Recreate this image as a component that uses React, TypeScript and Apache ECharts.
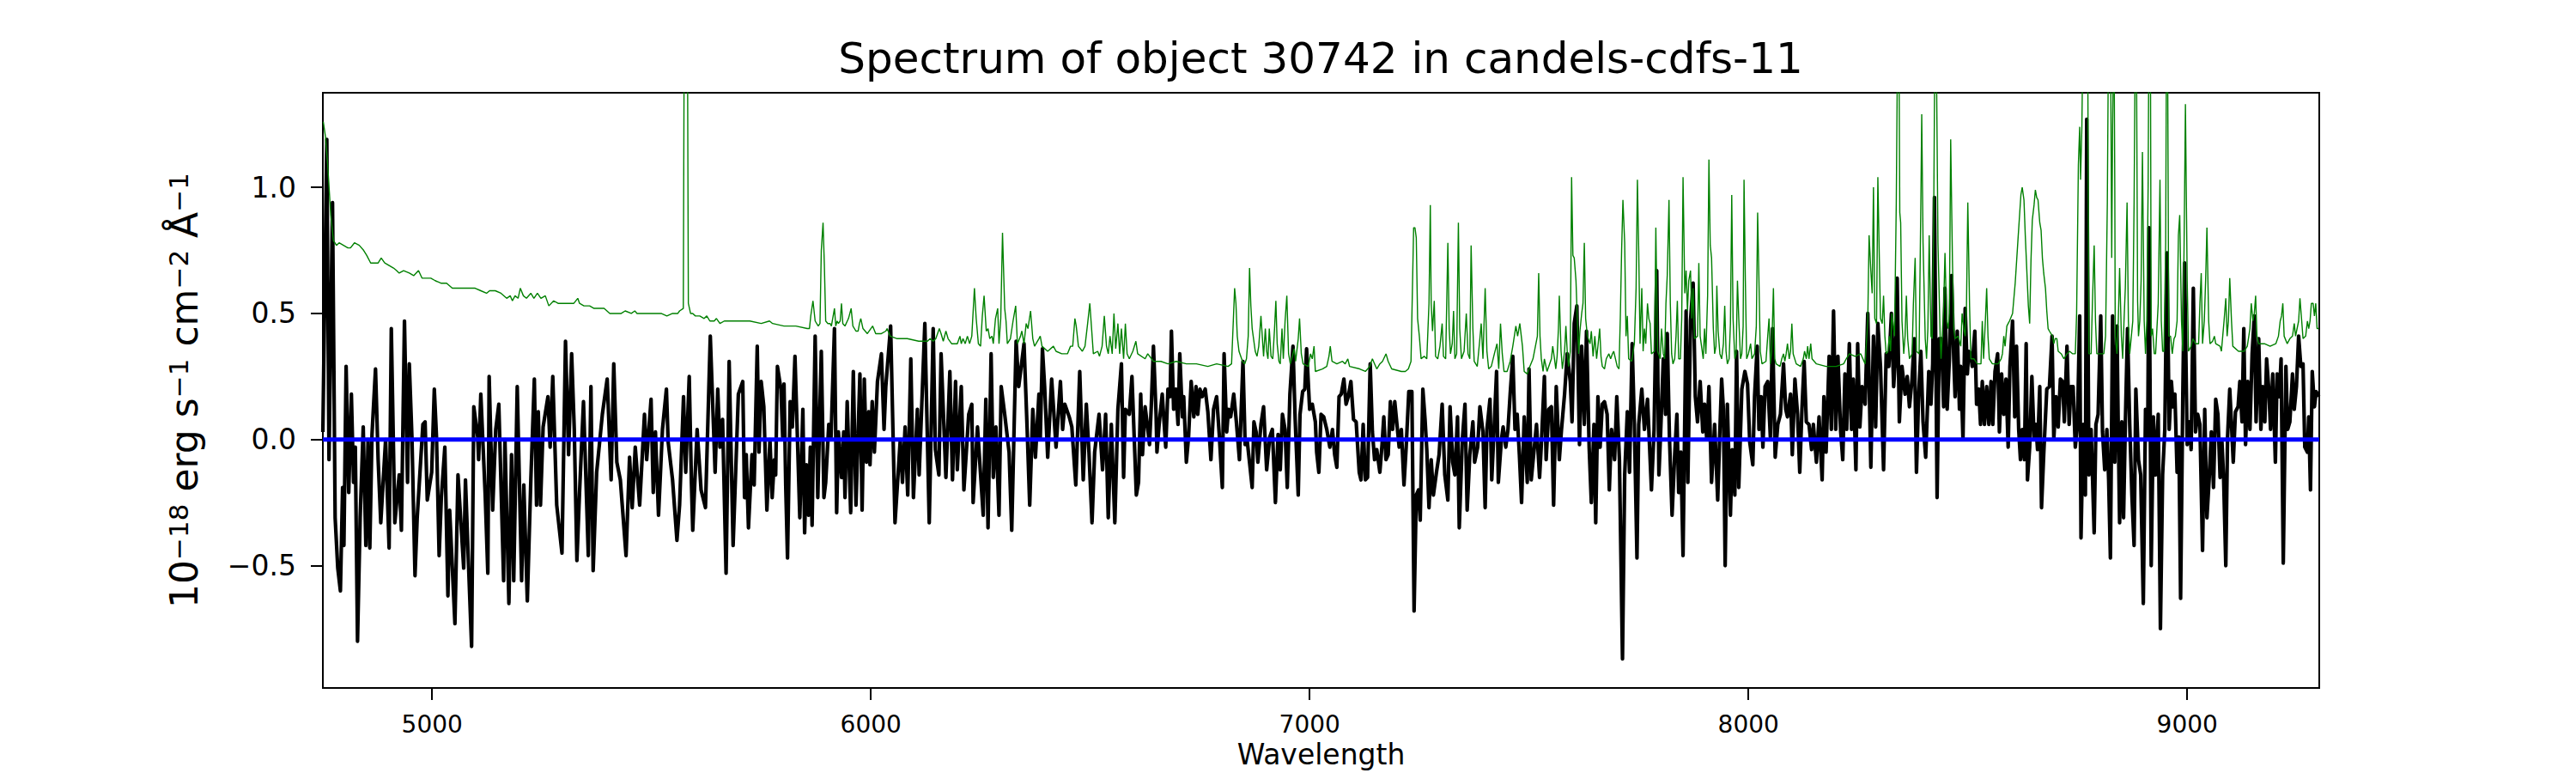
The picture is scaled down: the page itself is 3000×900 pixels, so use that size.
import React, { useEffect, useRef } from "react";
import * as echarts from "echarts";

// ---------- text ----------
const TITLE = "Spectrum of object 30742 in candels-cdfs-11";
const X_NAME = "Wavelength";
const Y_NAME_PARTS: [string, string][] = [
  ["n", "10"], ["s", "\u221218"], ["n", " erg s"], ["s", "\u22121"],
  ["n", " cm"], ["s", "\u22122"], ["n", " \u00c5"], ["s", "\u22121"],
];

// ---------- axes ----------
const X_MIN = 4751;
const X_MAX = 9301;
const Y_MIN = -0.985;
const Y_MAX = 1.375;
const X_TICKS = [5000, 6000, 7000, 8000, 9000];
const Y_TICKS = [-0.5, 0, 0.5, 1.0];
const ZERO_LEVEL = 0;

// ---------- flux (black), [wavelength, flux] ----------
const FLUX_A: [number, number][] = [
  [4751,0.03],[4760,1.19],[4765,-0.08],[4773,0.94],[4779,-0.31],[4785,-0.51],[4791,-0.60],[4796,-0.19],[4799,-0.42],[4804,0.29],[4810,-0.21],[4816,0.18],[4821,-0.17],[4825,-0.03],[4830,-0.80],[4836,-0.31],[4843,0.05],[4849,-0.42],[4854,0.00],[4858,-0.43],[4863,0.02],[4871,0.28],[4877,-0.08],[4883,-0.33],[4894,0.00],[4902,-0.43],[4907,0.44],[4915,-0.33],[4925,-0.14],[4930,-0.36],[4937,0.47],[4944,-0.17],[4948,0.30],[4954,0.01],[4961,-0.54],[4966,-0.31],[4979,0.06],[4984,0.07],[4989,-0.24],[4999,-0.13],[5005,0.20],[5010,0.01],[5016,-0.46],[5021,-0.23],[5029,-0.03],[5036,-0.62],[5040,-0.28],[5052,-0.73],[5059,-0.14],[5072,-0.51],[5076,-0.16],[5082,-0.45],[5090,-0.82],[5095,0.13],[5104,0.01],[5106,-0.08],[5111,0.18],[5121,-0.22],[5127,-0.53],[5130,0.25],[5138,-0.28],[5145,0.04],[5152,0.14],[5163,-0.56],[5166,0.00],[5175,-0.65],[5181,-0.06],[5186,-0.56],[5194,0.21],[5204,-0.56],[5209,-0.18],[5217,-0.64],[5225,-0.16],[5233,0.24],[5238,-0.26],[5242,0.11],[5247,-0.26],[5253,0.05],[5264,0.17],[5269,-0.03],[5275,0.25],[5284,-0.26],[5296,-0.45],[5304,0.39],[5311,-0.06],[5318,0.34],[5324,0.04],[5330,-0.48],[5336,-0.21],[5345,0.15],[5356,-0.46],[5362,0.21],[5367,-0.52],[5375,-0.13],[5388,0.10],[5399,0.24],[5408,-0.16],[5414,0.30],[5421,-0.09],[5429,-0.16],[5442,-0.46],[5450,-0.07],[5456,-0.27],[5463,-0.03],[5473,-0.26],[5484,0.10],[5489,-0.08],[5499,0.16],[5504,-0.21],[5509,0.03],[5516,-0.30],[5525,0.04],[5534,0.20],[5538,-0.01],[5548,-0.16],[5558,-0.40],[5564,-0.26],[5573,0.17],[5578,-0.13],[5586,0.25],[5591,-0.17],[5594,-0.36],[5604,0.04],[5613,-0.20],[5623,-0.27],[5634,0.41],[5645,-0.13],[5651,0.20],[5656,-0.03],[5662,0.08],[5670,-0.53],[5677,0.31],
];
const FLUX_B: [number, number][] = [
  [5686,-0.42],[5698,0.18],[5708,0.23],[5712,-0.23],[5716,-0.06],[5721,-0.35],[5729,-0.06],[5734,-0.18],[5741,0.37],[5745,-0.05],[5750,0.23],[5756,0.13],[5763,-0.28],[5770,0.00],[5775,-0.23],[5780,-0.08],[5783,-0.14],[5787,0.29],[5795,0.20],[5799,0.01],[5802,0.22],[5806,-0.19],[5810,-0.47],[5816,0.15],[5821,0.05],[5827,0.33],[5832,0.04],[5838,-0.31],[5845,0.12],[5849,-0.37],[5853,-0.10],[5858,-0.30],[5862,-0.03],[5866,-0.34],[5873,0.41],[5879,-0.23],[5887,0.35],[5893,-0.23],[5897,-0.17],[5904,0.06],[5909,0.00],[5917,0.44],[5922,-0.29],[5926,0.03],[5933,-0.15],[5938,0.03],[5941,-0.23],[5946,0.15],[5954,-0.29],[5960,0.27],[5966,-0.26],[5975,0.26],[5980,-0.28],[5985,0.24],[5990,-0.09],[5995,0.11],[5998,-0.10],[6003,0.15],[6008,-0.05],[6015,0.23],[6024,0.34],[6030,0.04],[6034,0.21],[6045,0.45],[6055,-0.33],[6067,0.00],[6072,-0.17],[6078,0.05],[6084,-0.22],[6091,0.32],[6097,-0.23],[6106,0.12],[6110,-0.14],[6123,0.46],[6133,-0.33],[6142,0.44],[6147,-0.04],[6155,-0.14],[6160,0.34],[6171,-0.15],[6180,0.27],[6186,-0.16],[6193,0.23],[6197,-0.12],[6206,0.21],[6212,-0.20],[6223,0.10],[6230,0.14],[6233,-0.25],[6243,0.05],[6256,-0.30],[6262,0.16],[6267,-0.35],[6274,0.34],[6279,-0.15],[6285,0.05],[6292,-0.30],[6297,0.21],[6305,0.10],[6315,-0.05],[6321,-0.36],[6331,0.39],[6337,0.21],[6349,0.38],[6356,0.05],[6362,-0.26],[6369,0.12],[6375,-0.07],[6383,0.18],[6386,0.00],[6391,0.36],[6396,0.21],[6403,-0.07],[6412,0.24],[6422,-0.03],[6432,0.23],[6437,0.04],[6442,0.14],[6452,0.09],[6458,0.05],[6467,-0.18],[6476,0.27],[6484,-0.16],[6491,0.14],[6497,-0.05],[6504,-0.33],[6510,-0.05],[6520,0.10],[6528,-0.12],[6535,0.10],[6541,-0.31],[6548,0.06],[6556,-0.33],[6563,0.12],[6571,0.30],[6576,-0.15],[6580,0.12],[6589,0.10],[6595,0.25],
];
const FLUX_C: [number, number][] = [
  [6605,-0.22],[6610,-0.17],[6615,0.18],[6619,-0.06],[6625,0.13],[6630,0.06],[6635,-0.02],[6639,0.13],[6644,0.37],[6650,0.10],[6652,-0.05],[6657,0.06],[6664,0.18],[6672,-0.03],[6677,0.20],[6682,0.17],[6685,0.43],[6690,0.12],[6695,0.20],[6700,0.06],[6704,0.34],[6710,0.09],[6713,0.17],[6719,-0.09],[6724,0.01],[6730,0.23],[6736,0.09],[6741,0.21],[6745,0.10],[6750,0.20],[6755,0.17],[6762,0.20],[6768,0.11],[6775,-0.08],[6781,0.12],[6788,0.17],[6794,0.02],[6801,-0.19],[6805,0.34],[6811,0.03],[6815,0.12],[6820,0.09],[6827,0.18],[6833,0.07],[6840,-0.08],[6848,0.31],[6853,-0.02],[6858,-0.01],[6863,-0.09],[6869,-0.19],[6873,0.07],[6878,0.03],[6882,-0.09],[6889,0.06],[6895,0.13],[6902,-0.12],[6909,0.01],[6915,0.04],[6922,-0.25],[6928,0.02],[6933,-0.12],[6938,0.10],[6944,0.04],[6949,-0.19],[6955,0.18],[6962,0.37],[6967,0.08],[6974,-0.22],[6978,0.10],[6984,0.19],[6989,0.20],[6993,0.36],[7000,0.12],[7006,0.14],[7013,0.07],[7016,-0.05],[7021,-0.13],[7026,0.10],[7032,0.09],[7039,0.04],[7046,-0.03],[7052,0.04],[7057,-0.06],[7062,-0.11],[7067,0.17],[7072,0.18],[7078,0.24],[7083,0.14],[7088,0.17],[7094,0.23],[7100,0.08],[7106,0.07],[7113,-0.13],[7117,-0.16],[7122,0.06],[7127,-0.16],[7132,-0.15],[7138,0.30],[7143,0.03],[7148,-0.08],[7153,-0.04],[7160,-0.13],[7165,-0.02],[7169,0.09],[7174,-0.08],[7179,-0.06],[7184,0.15],[7189,0.04],[7194,0.15],[7199,0.06],[7204,-0.03],[7209,0.04],[7215,-0.18],[7220,-0.03],[7226,0.19],[7233,0.19],[7238,-0.68],[7243,-0.22],[7248,-0.20],[7252,-0.32],[7258,0.20],[7263,0.08],[7267,-0.04],[7272,-0.27],[7277,-0.08],[7282,-0.22],[7289,-0.13],[7295,-0.06],[7302,0.14],[7308,-0.14],[7315,-0.24],[7320,0.13],[7326,-0.09],[7331,-0.14],[7337,0.09],[7341,-0.35],[7348,0.00],[7354,0.14],[7359,-0.28],[7365,-0.06],[7372,0.07],[7376,-0.09],[7383,-0.03],[7388,0.13],[7395,0.03],[7400,-0.27],[7404,0.04],[7411,0.16],[7415,-0.16],[7421,0.07],[7426,0.27],[7430,-0.17],[7437,0.00],[7441,0.05],[7447,-0.03],[7452,0.04],[7457,0.18],[7463,0.33],[7468,0.04],[7473,0.10],[7478,-0.06],[7483,-0.25],[7489,0.09],[7496,-0.17],[7500,0.28],[7505,-0.16],[7511,-0.05],[7517,0.06],
];
const FLUX_D: [number, number][] = [
  [7524,-0.15],[7528,-0.02],[7535,0.25],[7539,-0.08],[7545,0.12],[7551,0.13],[7556,-0.26],[7562,0.21],[7569,-0.08],[7574,0.04],[7581,0.18],[7587,0.34],[7594,0.23],[7598,0.07],[7603,0.46],[7609,0.53],[7615,-0.02],[7620,0.37],[7626,0.06],[7631,0.43],[7637,-0.03],[7642,-0.25],[7648,0.06],[7652,-0.33],[7657,0.17],[7662,-0.03],[7667,0.14],[7672,0.15],[7678,0.10],[7683,-0.20],[7688,0.04],[7695,-0.08],[7700,0.17],[7706,-0.08],[7713,-0.87],[7718,-0.14],[7724,0.11],[7729,-0.13],[7735,0.38],[7740,0.07],[7746,-0.47],[7750,0.06],[7757,0.20],[7763,0.04],[7770,0.16],[7774,0.00],[7779,-0.20],[7785,0.04],[7791,0.67],[7796,-0.14],[7800,0.03],[7806,0.32],[7811,0.10],[7815,0.42],[7820,0.01],[7826,-0.30],[7832,-0.06],[7837,0.10],[7841,-0.21],[7846,-0.05],[7851,-0.46],[7858,0.51],[7862,-0.17],[7868,0.47],[7874,0.62],[7879,0.17],[7884,0.07],[7890,0.23],[7896,0.03],[7900,0.14],[7905,0.00],[7910,0.21],[7916,-0.17],[7923,0.06],[7930,-0.24],[7935,0.04],[7939,0.24],[7943,0.12],[7947,-0.50],[7952,0.14],[7959,-0.30],[7963,-0.04],[7969,-0.22],[7973,0.35],[7978,-0.19],[7985,0.20],[7992,0.27],[7998,0.22],[8003,-0.01],[8010,-0.10],[8014,0.17],[8020,0.37],[8024,0.04],[8029,0.17],[8033,-0.03],[8038,0.21],[8044,0.23],[8050,0.01],[8055,0.44],[8061,-0.07],[8067,0.06],[8073,0.10],[8080,0.30],[8085,0.12],[8089,0.09],[8096,0.18],[8100,-0.06],[8106,0.24],[8112,0.10],[8117,-0.13],[8122,0.12],[8127,0.31],[8132,0.07],[8138,0.06],[8144,-0.04],[8148,0.06],[8155,-0.09],[8161,0.09],[8168,-0.16],[8172,0.17],[8177,-0.05],[8184,0.33],[8189,0.04],[8194,0.51],[8199,0.04],[8204,0.33],[8210,0.04],[8215,-0.08],[8220,0.26],[8224,0.04],[8230,0.38],[8235,0.04],[8239,0.24],[8245,-0.12],[8249,0.38],[8254,0.05],[8259,0.21],[8266,0.14],[8272,0.50],[8279,-0.11],[8285,0.41],[8290,0.05],[8295,0.46],[8301,0.29],[8308,-0.12],[8314,0.34],[8320,0.29],[8326,0.50],[8331,0.21],[8335,0.32],[8339,0.64],[8344,0.07],[8350,0.29],[8357,0.18],[8362,0.25],[8367,0.13],[8373,0.24],[8378,0.40],[8383,-0.13],[8388,0.18],[8393,0.35],[8398,0.07],[8404,-0.07],[8411,0.27],[8416,0.14],[8420,0.30],[8424,0.96],[8430,-0.23],[8435,0.40],
];
const FLUX_E: [number, number][] = [
  [8440,0.40],[8445,0.13],[8448,0.60],[8453,0.12],[8458,0.32],[8463,0.65],[8468,0.32],[8471,0.17],[8476,0.43],[8481,0.12],[8484,0.29],[8489,0.00],[8494,0.52],[8499,0.26],[8502,0.35],[8507,0.34],[8510,0.29],[8516,0.43],[8520,0.14],[8525,0.20],[8529,0.06],[8533,0.23],[8538,0.06],[8543,0.21],[8548,0.06],[8553,0.23],[8557,0.06],[8562,0.27],[8568,0.34],[8572,0.03],[8577,0.26],[8582,0.10],[8587,0.24],[8592,-0.03],[8596,0.29],[8602,0.47],[8607,0.09],[8611,0.37],[8616,0.04],[8620,-0.08],[8624,0.04],[8629,-0.08],[8633,0.38],[8636,-0.16],[8641,-0.03],[8646,0.25],[8651,0.01],[8655,0.06],[8659,-0.04],[8664,0.21],[8668,-0.27],[8673,-0.06],[8680,0.20],[8686,0.21],[8692,0.41],[8696,0.00],[8701,0.17],[8706,0.05],[8711,0.24],[8716,0.23],[8720,0.07],[8726,0.37],[8731,0.06],[8735,0.21],[8740,0.21],[8745,-0.03],[8750,0.07],[8755,0.49],[8758,-0.39],[8763,0.06],[8768,-0.22],[8771,1.27],[8776,-0.14],[8781,0.04],[8788,-0.37],[8792,0.06],[8797,0.10],[8803,0.49],[8807,0.03],[8812,-0.12],[8817,0.04],[8821,-0.16],[8825,-0.47],[8830,0.49],[8835,-0.09],[8840,0.45],[8843,0.03],[8846,-0.33],[8851,0.07],[8855,-0.31],[8859,0.06],[8864,0.44],[8869,0.06],[8874,-0.22],[8879,-0.42],[8883,0.20],[8889,-0.08],[8894,-0.14],[8900,-0.65],[8905,0.12],[8910,0.00],[8913,0.84],[8918,-0.50],[8923,0.09],[8928,-0.14],[8934,0.10],[8939,-0.75],[8944,-0.14],[8949,0.04],[8954,0.74],[8959,0.04],[8964,0.23],[8968,0.13],[8972,0.18],[8977,-0.13],[8981,0.01],[8985,-0.63],[8990,0.17],[8994,0.70],[9000,-0.02],[9005,0.07],[9009,-0.04],[9014,0.60],[9019,0.03],[9024,0.10],[9029,0.06],[9035,-0.44],[9040,0.12],[9045,-0.31],[9050,-0.16],[9055,0.03],[9060,-0.19],[9065,0.16],[9070,0.10],[9075,-0.15],[9079,0.00],[9083,-0.15],[9088,-0.50],[9092,0.01],[9097,0.20],[9101,0.06],[9105,-0.09],[9110,0.11],[9116,0.13],[9120,0.23],[9125,0.07],[9129,0.44],[9133,-0.02],[9138,0.23],[9143,0.04],[9148,0.34],[9153,0.49],[9157,0.07],[9163,0.40],[9168,0.04],[9172,0.21],[9177,0.07],[9181,0.32],[9186,0.20],[9190,0.04],[9195,0.26],[9201,-0.09],[9205,0.26],[9210,0.17],[9214,0.32],[9219,-0.49],[9225,0.29],[9229,0.04],[9234,0.07],[9240,0.26],[9244,0.12],[9249,0.21],[9254,0.41],[9259,0.29],[9264,0.30],[9268,-0.03],[9274,-0.05],[9277,0.09],[9281,-0.20],[9285,0.27],[9290,0.13],[9294,0.19],[9300,0.17],
];

// ---------- green trace, [wavelength, value] ----------
const GREEN_A: [number, number][] = [
  [4752,1.26],[4757,1.20],[4762,1.09],[4769,0.89],[4775,0.79],[4782,0.77],[4788,0.78],[4798,0.77],[4808,0.76],[4814,0.76],[4823,0.78],[4834,0.77],[4844,0.75],[4851,0.73],[4860,0.70],[4870,0.70],[4877,0.70],[4884,0.72],[4892,0.70],[4902,0.69],[4912,0.68],[4919,0.67],[4925,0.66],[4935,0.67],[4948,0.66],[4958,0.65],[4969,0.67],[4977,0.64],[4987,0.64],[4997,0.64],[5007,0.63],[5020,0.62],[5033,0.62],[5046,0.60],[5059,0.60],[5072,0.60],[5085,0.60],[5098,0.60],[5111,0.59],[5124,0.58],[5131,0.59],[5144,0.59],[5157,0.58],[5170,0.56],[5178,0.57],[5183,0.55],[5189,0.57],[5196,0.56],[5201,0.60],[5208,0.57],[5215,0.56],[5225,0.58],[5232,0.56],[5240,0.58],[5248,0.56],[5258,0.57],[5266,0.53],[5277,0.55],[5287,0.54],[5300,0.54],[5313,0.54],[5323,0.54],[5332,0.56],[5336,0.54],[5346,0.53],[5359,0.53],[5369,0.52],[5382,0.52],[5392,0.52],[5405,0.50],[5418,0.50],[5431,0.50],[5440,0.51],[5454,0.50],[5462,0.51],[5467,0.50],[5476,0.50],[5489,0.50],[5506,0.50],[5522,0.50],[5535,0.49],[5548,0.50],[5560,0.50],[5564,0.51],[5572.5,0.52],[5574.5,1.6],[5576,3.0],[5580,3.0],[5582,1.6],[5584,0.54],[5589,0.50],[5594,0.50],[5600,0.49],[5610,0.49],[5620,0.48],[5626,0.49],[5633,0.47],[5643,0.47],[5648,0.48],[5656,0.46],[5666,0.47],[5677,0.47],
];
const GREEN_B: [number, number][] = [
  [5698,0.47],[5724,0.47],[5750,0.46],[5769,0.47],[5776,0.46],[5802,0.45],[5829,0.45],[5855,0.44],[5860,0.44],[5863,0.49],[5868,0.55],[5873,0.47],[5880,0.45],[5884,0.46],[5887,0.75],[5891,0.86],[5894,0.69],[5897,0.47],[5902,0.46],[5907,0.46],[5910,0.45],[5913,0.48],[5917,0.52],[5920,0.45],[5923,0.47],[5926,0.46],[5930,0.47],[5933,0.54],[5936,0.46],[5941,0.45],[5949,0.48],[5955,0.52],[5959,0.45],[5966,0.43],[5971,0.43],[5974,0.46],[5977,0.48],[5982,0.44],[5992,0.42],[6004,0.45],[6011,0.42],[6024,0.42],[6034,0.43],[6037,0.44],[6044,0.41],[6060,0.40],[6083,0.40],[6109,0.39],[6129,0.39],[6135,0.40],[6142,0.39],[6148,0.40],[6156,0.44],[6160,0.42],[6165,0.39],[6171,0.43],[6176,0.40],[6184,0.38],[6197,0.38],[6203,0.41],[6206,0.38],[6210,0.40],[6215,0.38],[6220,0.41],[6225,0.38],[6230,0.41],[6236,0.60],[6240,0.48],[6245,0.38],[6250,0.37],[6254,0.49],[6258,0.57],[6263,0.43],[6267,0.44],[6271,0.40],[6276,0.41],[6279,0.38],[6284,0.48],[6289,0.52],[6292,0.38],[6296,0.48],[6300,0.82],[6305,0.52],[6308,0.47],[6311,0.38],[6318,0.40],[6324,0.47],[6330,0.53],[6334,0.38],[6341,0.41],[6344,0.43],[6349,0.38],[6354,0.46],[6358,0.44],[6364,0.51],[6369,0.40],[6373,0.37],[6383,0.40],[6386,0.41],[6390,0.37],[6403,0.35],[6416,0.37],[6422,0.35],[6435,0.34],[6448,0.34],[6455,0.37],[6460,0.37],[6465,0.48],[6468,0.45],[6473,0.37],[6482,0.35],[6488,0.37],[6494,0.46],[6499,0.54],[6503,0.44],[6507,0.34],[6517,0.35],[6521,0.33],[6527,0.37],[6532,0.49],[6537,0.37],[6541,0.34],[6545,0.41],[6550,0.34],[6554,0.50],[6558,0.36],[6563,0.46],[6567,0.34],[6571,0.44],[6576,0.32],[6580,0.46],[6584,0.34],[6589,0.32],[6597,0.35],
];
const GREEN_C: [number, number][] = [
  [6604,0.39],[6608,0.34],[6625,0.32],[6631,0.34],[6644,0.31],[6661,0.31],[6677,0.30],[6696,0.31],[6719,0.30],[6742,0.30],[6768,0.29],[6788,0.30],[6814,0.29],[6822,0.30],[6826,0.47],[6829,0.60],[6832,0.54],[6835,0.41],[6839,0.35],[6847,0.31],[6852,0.30],[6856,0.32],[6860,0.41],[6863,0.68],[6866,0.53],[6869,0.44],[6876,0.35],[6880,0.33],[6884,0.37],[6889,0.49],[6892,0.41],[6895,0.33],[6899,0.44],[6902,0.35],[6905,0.32],[6908,0.44],[6912,0.33],[6916,0.32],[6920,0.44],[6923,0.55],[6926,0.38],[6930,0.31],[6933,0.30],[6937,0.44],[6940,0.32],[6944,0.47],[6948,0.57],[6952,0.34],[6956,0.30],[6965,0.36],[6968,0.31],[6974,0.40],[6977,0.48],[6981,0.34],[6985,0.30],[6997,0.29],[7002,0.34],[7006,0.32],[7010,0.37],[7013,0.27],[7029,0.28],[7039,0.29],[7044,0.33],[7047,0.37],[7051,0.31],[7062,0.30],[7075,0.31],[7081,0.30],[7087,0.32],[7091,0.29],[7114,0.28],[7127,0.27],[7137,0.29],[7143,0.32],[7148,0.30],[7153,0.28],[7160,0.30],[7166,0.31],[7174,0.34],[7179,0.31],[7187,0.28],[7209,0.27],[7218,0.27],[7225,0.28],[7231,0.31],[7237,0.84],[7240,0.84],[7243,0.80],[7246,0.48],[7250,0.41],[7254,0.32],[7261,0.33],[7267,0.32],[7272,0.54],[7275,0.93],[7277,0.54],[7280,0.43],[7284,0.55],[7287,0.33],[7292,0.32],[7297,0.37],[7302,0.46],[7305,0.33],[7310,0.32],[7315,0.78],[7318,0.44],[7321,0.34],[7325,0.38],[7328,0.51],[7331,0.32],[7335,0.34],[7339,0.86],[7342,0.44],[7346,0.32],[7352,0.35],[7357,0.50],[7361,0.34],[7365,0.32],[7368,0.77],[7372,0.44],[7375,0.31],[7382,0.29],[7388,0.40],[7391,0.46],[7395,0.32],[7400,0.60],[7404,0.35],[7408,0.28],[7414,0.29],[7421,0.34],[7427,0.38],[7431,0.28],[7435,0.46],[7439,0.34],[7443,0.27],[7450,0.27],[7457,0.31],[7463,0.37],[7470,0.45],[7474,0.41],[7479,0.46],[7485,0.37],[7489,0.27],[7496,0.26],[7502,0.29],[7509,0.32],
];
const GREEN_D: [number, number][] = [
  [7519,0.41],[7522,0.66],[7525,0.41],[7528,0.32],[7532,0.27],[7535,0.32],[7541,0.27],[7551,0.32],[7554,0.37],[7558,0.32],[7561,0.28],[7564,0.33],[7567,0.44],[7569,0.57],[7573,0.35],[7576,0.28],[7581,0.35],[7584,0.45],[7587,0.35],[7590,0.29],[7594,0.35],[7597,1.04],[7600,0.73],[7603,0.72],[7607,0.63],[7610,0.48],[7613,0.34],[7616,0.43],[7620,0.50],[7623,0.54],[7626,0.78],[7629,0.48],[7633,0.41],[7639,0.38],[7642,0.43],[7646,0.33],[7650,0.41],[7654,0.32],[7657,0.37],[7661,0.44],[7664,0.33],[7667,0.29],[7672,0.28],[7676,0.32],[7682,0.34],[7686,0.32],[7690,0.34],[7693,0.35],[7697,0.32],[7701,0.29],[7705,0.28],[7708,0.48],[7711,0.75],[7714,0.95],[7718,0.78],[7721,0.41],[7724,0.49],[7727,0.32],[7734,0.31],[7740,0.38],[7744,0.60],[7747,1.03],[7750,0.75],[7753,0.38],[7757,0.60],[7760,0.35],[7763,0.44],[7766,0.38],[7770,0.54],[7773,0.48],[7776,0.46],[7779,0.34],[7786,0.35],[7789,0.84],[7793,0.35],[7799,0.32],[7802,0.44],[7806,0.34],[7809,0.32],[7812,0.54],[7815,0.65],[7819,0.95],[7822,0.54],[7825,0.34],[7828,0.30],[7832,0.32],[7835,0.41],[7838,0.55],[7841,0.32],[7845,0.32],[7848,0.48],[7851,1.04],[7855,0.58],[7858,0.67],[7861,0.51],[7864,0.63],[7868,0.67],[7871,0.48],[7874,0.60],[7877,0.40],[7884,0.41],[7887,0.70],[7890,0.41],[7894,0.36],[7897,0.32],[7900,0.44],[7903,0.34],[7907,0.57],[7910,1.11],[7913,0.77],[7916,0.72],[7920,0.44],[7923,0.34],[7926,0.37],[7928,0.61],[7931,0.43],[7935,0.34],[7939,0.32],[7943,0.38],[7946,0.53],[7949,0.35],[7952,0.30],[7956,0.32],[7959,0.46],[7962,0.97],[7965,0.48],[7969,0.32],[7972,0.34],[7975,0.63],[7978,0.48],[7982,0.32],[7985,0.34],[7988,0.45],[7990,1.03],[7993,0.63],[7996,0.32],[8000,0.34],[8005,0.38],[8008,0.32],[8014,0.34],[8018,0.45],[8021,0.90],[8024,0.63],[8027,0.35],[8031,0.30],[8040,0.31],[8044,0.41],[8047,0.48],[8050,0.30],[8053,0.35],[8057,0.60],[8060,0.32],[8063,0.30],[8072,0.29],[8076,0.32],[8080,0.34],[8083,0.31],[8086,0.34],[8089,0.38],[8093,0.32],[8096,0.35],[8099,0.46],[8102,0.34],[8109,0.30],[8119,0.29],[8125,0.32],[8128,0.35],[8132,0.32],[8135,0.37],[8138,0.32],[8142,0.38],[8145,0.32],[8155,0.30],[8177,0.29],[8200,0.29],[8217,0.30],[8223,0.32],[8230,0.34],[8243,0.33],[8256,0.34],[8266,0.30],[8272,0.47],[8275,0.81],[8279,0.67],[8282,0.58],[8285,1.00],[8288,0.48],[8292,0.46],[8295,1.04],[8298,0.75],[8301,0.48],[8305,0.46],[8308,0.57],[8311,0.41],[8314,0.34],[8318,0.35],[8321,0.41],[8324,0.35],[8327,0.50],[8333,0.41],[8337,0.94],[8340,1.6],[8343,1.6],[8345,0.90],[8347,0.86],[8350,0.47],[8354,0.34],[8357,0.41],[8360,0.57],[8363,0.40],[8367,0.32],[8373,0.34],[8376,0.54],[8380,0.72],[8383,0.35],[8389,0.34],[8393,0.94],[8395,1.29],[8398,0.78],[8403,0.40],[8406,0.32],[8409,0.44],[8412,0.81],[8416,0.41],[8419,0.40],[8422,0.81],[8425,1.6],[8428,1.6],[8432,0.78],[8437,0.41],
];
const GREEN_E: [number, number][] = [
  [8439,0.32],[8445,0.53],[8448,0.74],[8452,0.47],[8455,0.44],[8458,0.50],[8461,1.19],[8465,0.71],[8468,0.44],[8471,0.40],[8478,0.41],[8484,0.37],[8487,0.50],[8491,0.44],[8494,0.41],[8497,0.53],[8500,0.94],[8504,0.53],[8507,0.32],[8514,0.32],[8522,0.30],[8530,0.30],[8533,0.47],[8536,0.32],[8540,0.47],[8543,0.60],[8546,0.41],[8549,0.32],[8556,0.30],[8569,0.30],[8576,0.32],[8579,0.34],[8582,0.41],[8585,0.37],[8589,0.45],[8592,0.46],[8595,0.47],[8602,0.50],[8608,0.62],[8615,0.81],[8621,0.97],[8624,1.00],[8628,0.95],[8631,0.81],[8634,0.69],[8638,0.53],[8641,0.46],[8644,0.71],[8647,0.87],[8651,0.93],[8654,0.99],[8657,0.96],[8660,0.95],[8664,0.86],[8667,0.83],[8670,0.72],[8673,0.66],[8677,0.60],[8680,0.51],[8683,0.44],[8686,0.43],[8693,0.41],[8696,0.38],[8699,0.40],[8703,0.40],[8706,0.35],[8713,0.34],[8719,0.32],[8726,0.34],[8732,0.35],[8739,0.34],[8745,0.34],[8748,0.50],[8752,1.09],[8755,1.24],[8757,1.03],[8760,1.24],[8763,1.7],[8773,1.7],[8776,0.34],[8781,0.34],[8784,0.54],[8788,0.77],[8791,0.47],[8794,0.34],[8804,0.34],[8810,0.34],[8814,0.41],[8818,0.94],[8821,1.7],[8825,1.7],[8828,0.72],[8830,1.24],[8833,1.7],[8835,1.0],[8836,0.41],[8840,0.34],[8843,0.47],[8846,0.68],[8850,0.41],[8853,0.32],[8856,0.47],[8859,0.60],[8863,0.94],[8866,0.47],[8869,0.34],[8876,0.47],[8879,0.94],[8882,1.7],[8884,1.7],[8887,0.55],[8889,0.41],[8892,0.47],[8895,0.63],[8898,1.14],[8902,0.47],[8905,0.34],[8908,0.47],[8911,1.01],[8913,1.7],[8916,1.7],[8918,0.41],[8921,0.44],[8925,0.34],[8928,0.34],[8931,0.44],[8934,0.54],[8938,1.03],[8941,0.47],[8944,0.35],[8947,0.35],[8951,0.78],[8953,1.7],[8955,1.7],[8958,0.41],[8962,0.41],[8966,0.34],[8970,0.40],[8973,0.41],[8977,0.47],[8980,0.81],[8983,0.89],[8987,0.47],[8990,0.35],[8993,0.78],[8996,1.33],[9000,0.63],[9003,0.35],[9009,0.37],[9013,0.40],[9019,0.38],[9026,0.38],[9029,0.54],[9032,0.66],[9035,0.38],[9039,0.47],[9042,0.63],[9045,0.84],[9049,0.47],[9052,0.38],[9058,0.39],[9062,0.41],[9065,0.38],[9075,0.37],[9078,0.35],[9081,0.41],[9084,0.47],[9088,0.56],[9091,0.41],[9094,0.47],[9097,0.64],[9101,0.47],[9104,0.37],[9117,0.35],[9130,0.35],[9137,0.37],[9143,0.44],[9146,0.54],[9150,0.47],[9153,0.50],[9156,0.57],[9159,0.41],[9163,0.38],[9176,0.38],[9189,0.37],[9202,0.38],[9208,0.41],[9212,0.47],[9215,0.49],[9218,0.54],[9221,0.41],[9228,0.38],[9234,0.40],[9240,0.41],[9244,0.46],[9247,0.41],[9254,0.47],[9257,0.56],[9261,0.47],[9264,0.40],[9270,0.41],[9274,0.47],[9277,0.44],[9280,0.47],[9283,0.54],[9287,0.54],[9290,0.49],[9293,0.54],[9296,0.44],[9300,0.44],
];

const FONT = "DejaVu Sans";

export default function App() {
  const ref = useRef<HTMLDivElement>(null);

  useEffect(() => {
    if (!ref.current) return;
    const chart = echarts.init(ref.current, null, { renderer: "svg" });

    const flux = [...FLUX_A, ...FLUX_B, ...FLUX_C, ...FLUX_D, ...FLUX_E];
    const green = [...GREEN_A, ...GREEN_B, ...GREEN_C, ...GREEN_D, ...GREEN_E];
    const zeroLine = [[X_MIN, ZERO_LEVEL], [X_MAX, ZERO_LEVEL]];
    const yName = Y_NAME_PARTS.map(([k, t]) => `{${k}|${t}}`).join("");
    const minus = (s: string) => s.replace("-", "\u2212");

    chart.setOption({
      animation: false,
      backgroundColor: "#ffffff",
      textStyle: { fontFamily: FONT },
      title: {
        text: TITLE,
        left: 1533,
        top: 38,
        textAlign: "center",
        textStyle: { fontSize: 50, fontWeight: "normal", color: "#000", fontFamily: FONT },
      },
      grid: {
        left: 376,
        right: 299,
        top: 108,
        bottom: 99,
        containLabel: false,
        outerBoundsMode: "none",
        show: true,
        borderColor: "#000",
        borderWidth: 2,
        backgroundColor: "transparent",
      },
      xAxis: {
        type: "value",
        min: X_MIN,
        max: X_MAX,
        name: X_NAME,
        nameLocation: "middle",
        nameGap: 55,
        nameTextStyle: { fontSize: 33, color: "#000", fontFamily: FONT },
        axisLine: { show: true, onZero: false, lineStyle: { color: "#000", width: 2 } },
        axisTick: { show: true, length: 14, customValues: X_TICKS, lineStyle: { color: "#000", width: 2 } },
        axisLabel: {
          customValues: X_TICKS,
          fontSize: 28,
          color: "#000",
          margin: 28,
          fontFamily: FONT,
          formatter: (v: number) => String(v),
        },
        splitLine: { show: false },
      },
      yAxis: {
        type: "value",
        min: Y_MIN,
        max: Y_MAX,
        name: yName,
        nameLocation: "middle",
        nameRotate: 90,
        nameGap: 140,
        nameTextStyle: {
          color: "#000",
          fontSize: 44,
          fontFamily: FONT,
          rich: {
            n: { fontSize: 44, lineHeight: 44, verticalAlign: "bottom", color: "#000", fontFamily: FONT },
            s: { fontSize: 31, lineHeight: 31, verticalAlign: "top", padding: [0, 0, 20, 0], color: "#000", fontFamily: FONT },
          },
        },
        axisLine: { show: true, onZero: false, lineStyle: { color: "#000", width: 2 } },
        axisTick: { show: true, length: 14, customValues: Y_TICKS, lineStyle: { color: "#000", width: 2 } },
        axisLabel: {
          customValues: Y_TICKS,
          fontSize: 33,
          color: "#000",
          margin: 31,
          fontFamily: FONT,
          formatter: (v: number) => minus(v.toFixed(1)),
        },
        splitLine: { show: false },
      },
      series: [
        {
          type: "line",
          name: "flux",
          data: flux,
          symbol: "none",
          clip: true,
          lineStyle: { color: "#000000", width: 4.2, join: "round" },
          emphasis: { disabled: true },
          z: 2,
        },
        {
          type: "line",
          name: "error",
          data: green,
          symbol: "none",
          clip: true,
          lineStyle: { color: "#008000", width: 1.4 },
          emphasis: { disabled: true },
          z: 3,
        },
        {
          type: "line",
          name: "zero",
          data: zeroLine,
          symbol: "none",
          clip: true,
          lineStyle: { color: "#0000ff", width: 5 },
          emphasis: { disabled: true },
          z: 4,
        },
      ],
    });

    return () => chart.dispose();
  }, []);

  return (
    <div
      ref={ref}
      style={{ position: "absolute", left: 0, top: 0, width: 3000, height: 900, background: "#fff" }}
    />
  );
}
